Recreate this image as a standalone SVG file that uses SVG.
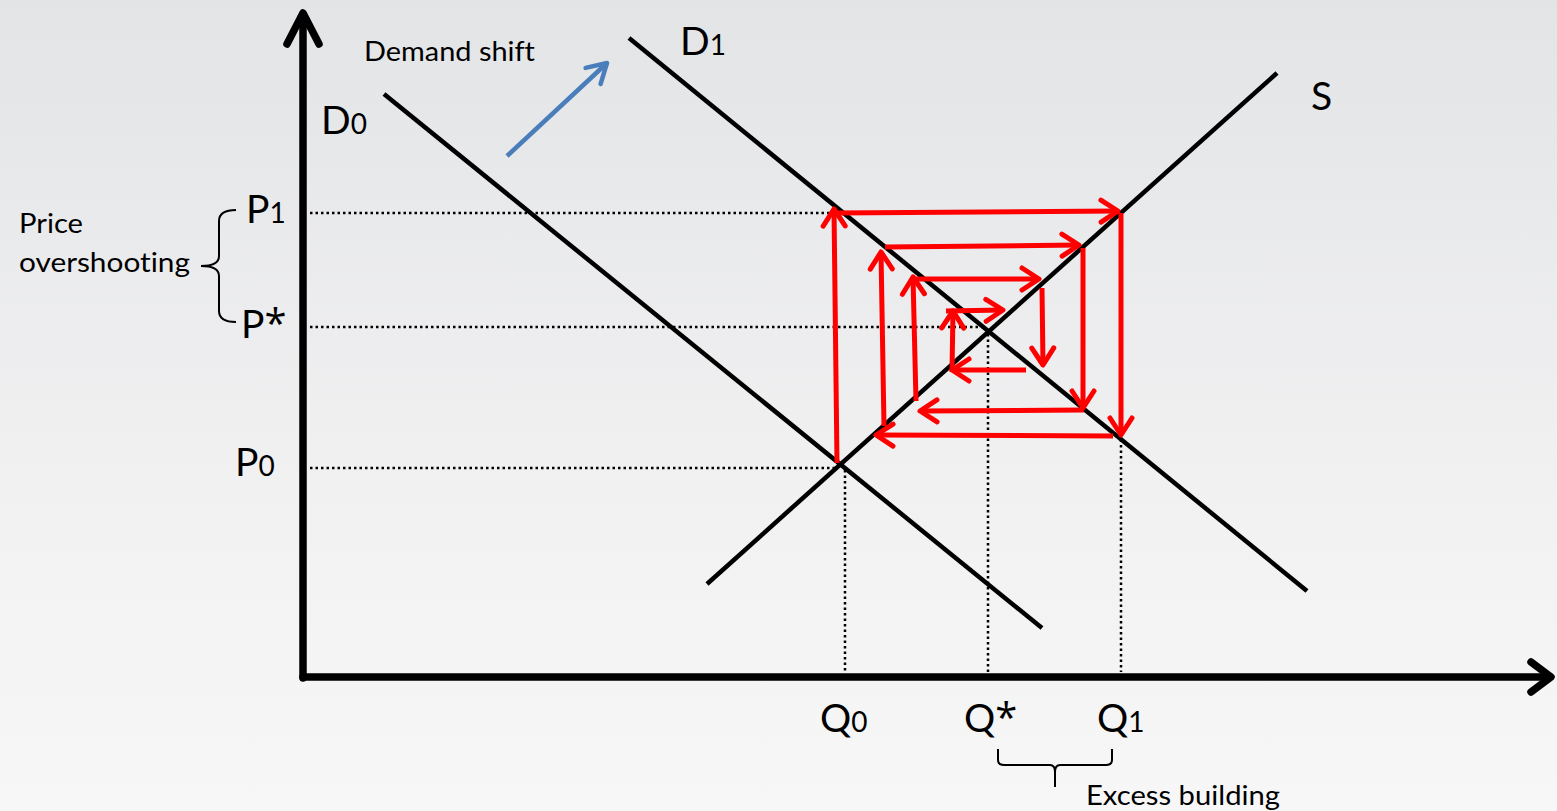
<svg xmlns="http://www.w3.org/2000/svg" width="1557" height="811" viewBox="0 0 1557 811">
<defs>
<linearGradient id="bg" x1="0" y1="0" x2="0" y2="1">
<stop offset="0" stop-color="#e3e4e6"/>
<stop offset="0.6" stop-color="#f1f1f2"/>
<stop offset="1" stop-color="#f7f7f7"/>
</linearGradient>
<marker id="ra" viewBox="-22 -15 26 30" refX="0" refY="0" markerWidth="26" markerHeight="30" markerUnits="userSpaceOnUse" orient="auto" overflow="visible">
<path d="M-17,-11 L0,0 L-17,11" fill="none" stroke="#ff0000" stroke-width="5" stroke-linecap="round" stroke-linejoin="round"/>
</marker>
<marker id="ba" viewBox="-24 -15 28 30" refX="0" refY="0" markerWidth="28" markerHeight="30" markerUnits="userSpaceOnUse" orient="auto" overflow="visible">
<path d="M-19,-11 L0,0 L-19,11" fill="none" stroke="#4a7ebb" stroke-width="4.5" stroke-linecap="round" stroke-linejoin="round"/>
</marker>
</defs>
<style>
.ax{fill:none;stroke:#000;stroke-width:7.5;stroke-linecap:round;stroke-linejoin:round}
.cv{fill:none;stroke:#000;stroke-width:4.5}
.dot{fill:none;stroke:#000;stroke-width:2.5;stroke-dasharray:2.5 3}
.rd{fill:none;stroke:#ff0000;stroke-width:5;marker-end:url(#ra)}
.br{fill:none;stroke:#000;stroke-width:2}
.sm{font-family:Lato,"Open Sans",sans-serif;font-size:27px;fill:#000;font-variant-ligatures:none}
.bg{font-family:Lato,"Open Sans",sans-serif;font-size:39px;fill:#000}
.sub{font-size:28px}
.ast{font-family:"Open Sans",sans-serif;font-size:40px}
</style>
<rect x="0" y="0" width="1557" height="811" fill="url(#bg)"/>

<g id="guides">
<line class="dot" x1="310" y1="213" x2="833" y2="213"/>
<line class="dot" x1="310" y1="327" x2="985" y2="327"/>
<line class="dot" x1="310" y1="468" x2="838" y2="468"/>
<line class="dot" x1="845" y1="470" x2="845" y2="672"/>
<line class="dot" x1="988" y1="334" x2="988" y2="672"/>
<line class="dot" x1="1121" y1="214" x2="1121" y2="672"/>
</g>

<g id="axes">
<line class="ax" x1="303" y1="16" x2="303" y2="678"/>
<polyline class="ax" points="287,44 303,13 319,44"/>
<line class="ax" x1="303" y1="677" x2="1549" y2="677"/>
<polyline class="ax" points="1531,662 1551,677 1531,692"/>
</g>

<g id="curves">
<line id="D0" class="cv" x1="384" y1="94" x2="1042" y2="628"/>
<line id="D1" class="cv" x1="629" y1="38" x2="1307" y2="591"/>
<line id="S" class="cv" x1="707" y1="584" x2="1277" y2="73"/>
</g>

<g id="connectors">
<line class="rd" x1="837" y1="463" x2="834" y2="209"/>
<line class="rd" x1="835" y1="213" x2="1118" y2="211"/>
<line class="rd" x1="1121" y1="213" x2="1121" y2="435"/>
<line class="rd" x1="1113" y1="436" x2="876" y2="435"/>
<line class="rd" x1="884" y1="426" x2="881" y2="252"/>
<line class="rd" x1="885" y1="247" x2="1079" y2="245"/>
<line class="rd" x1="1083" y1="248" x2="1083" y2="408"/>
<line class="rd" x1="1084" y1="410" x2="920" y2="411"/>
<line class="rd" x1="916" y1="401" x2="913" y2="277"/>
<line class="rd" x1="913" y1="279" x2="1039" y2="279"/>
<line class="rd" x1="1042" y1="288" x2="1043" y2="365"/>
<line class="rd" x1="1026" y1="370" x2="952" y2="370"/>
<line class="rd" x1="952" y1="372" x2="953" y2="311"/>
<line class="rd" x1="946" y1="311" x2="1003" y2="310"/>
<line x1="507" y1="156" x2="607" y2="63" fill="none" stroke="#4a7ebb" stroke-width="4.5" marker-end="url(#ba)"/>
</g>

<g id="braces">
<path class="br" d="M236,210 Q219,210 219,221 L219,256 Q219,266 201,266 Q219,266 219,276 L219,311 Q219,322 236,322"/>
<path class="br" d="M998,749 L998,760 Q998,765 1004,765 L1050,765 Q1055,765 1055,772 L1055,787 M1055,772 Q1055,765 1060,765 L1106,765 Q1112,765 1112,760 L1112,749"/>
</g>

<g id="labels">
<text class="sm" x="364" y="61" textLength="171" lengthAdjust="spacingAndGlyphs">Demand shift</text>
<text class="sm" x="19" y="233" textLength="64" lengthAdjust="spacingAndGlyphs">Price</text>
<text class="sm" x="19" y="272" textLength="171" lengthAdjust="spacingAndGlyphs">overshooting</text>
<text class="sm" x="1086" y="805" textLength="194" lengthAdjust="spacingAndGlyphs">Excess building</text>
<text class="bg" x="321" y="134">D<tspan class="sub">0</tspan></text>
<text class="bg" x="680" y="55">D<tspan class="sub">1</tspan></text>
<text class="bg" x="1311" y="110">S</text>
<text class="bg" x="246" y="223">P<tspan class="sub">1</tspan></text>
<text class="bg" x="241" y="338">P<tspan class="ast">*</tspan></text>
<text class="bg" x="235" y="476">P<tspan class="sub">0</tspan></text>
<text class="bg" x="820" y="732">Q<tspan class="sub">0</tspan></text>
<text class="bg" x="964" y="732">Q<tspan class="ast">*</tspan></text>
<text class="bg" x="1097" y="732">Q<tspan class="sub">1</tspan></text>
</g>
</svg>
